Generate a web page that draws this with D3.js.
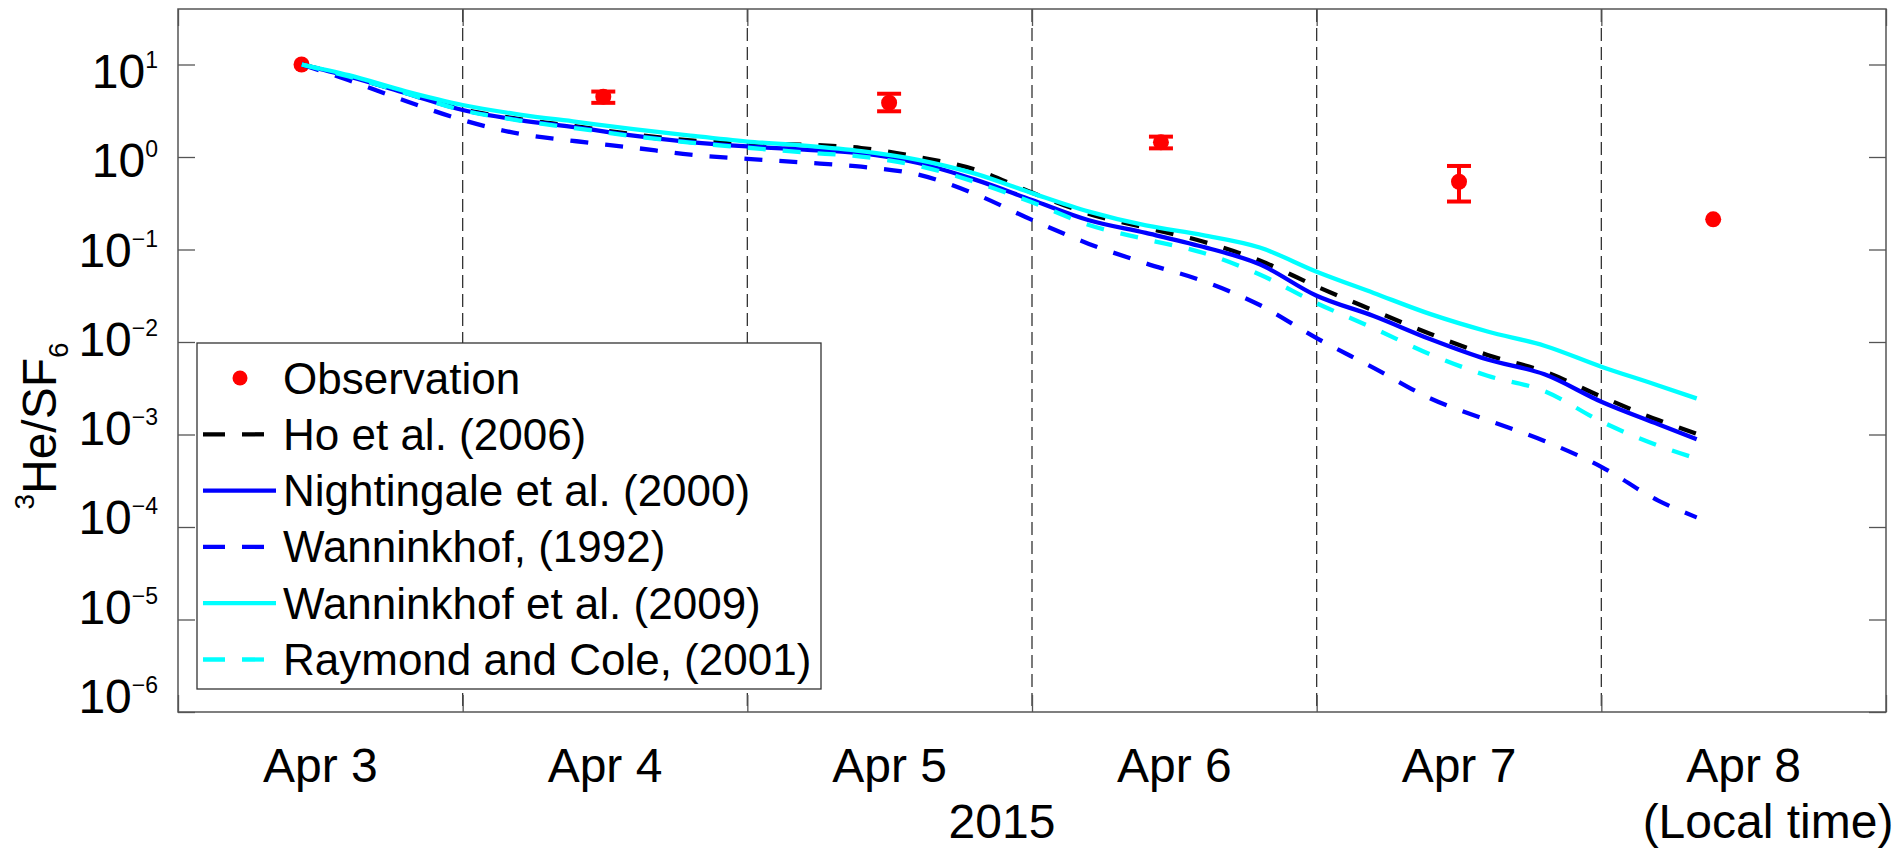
<!DOCTYPE html>
<html><head><meta charset="utf-8">
<script src="https://cdn.jsdelivr.net/npm/d3@7"></script>
<style>
html,body{margin:0;padding:0;background:#fff;}
svg{display:block;}
text{font-family:Arial,"Liberation Sans",Helvetica,sans-serif;fill:#000;}
</style></head><body>
<svg id="chart" width="1897" height="850"></svg>
<script>
// Time axis: days after 2015-04-03 00:00 (local time)
const startDate = "2015-04-03";
const dayCount = 6;

// Observations
const obsDay   = [0.434, 1.494, 2.498, 3.453, 4.500, 5.393];
const obsValue = [10.0, 4.49, 3.86, 1.44, 0.54, 0.212];
const obsLow   = [null, 3.85, 3.12, 1.24, 0.33, null];
const obsHigh  = [null, 5.10, 4.83, 1.66, 0.80, null];

// Model curves (common time grid, days after start)
const modelDays = [0.435,0.6,0.8,1.0,1.2,1.4,1.6,1.8,2.0,2.2,2.4,2.6,2.8,3.0,3.2,3.4,3.6,3.8,4.0,4.2,4.4,4.6,4.8,5.0,5.2,5.335];
const ho2006 = [10,7.41,4.95,3.27,2.57,2.14,1.76,1.51,1.41,1.36,1.25,1.00,0.733,0.412,0.243,0.172,0.122,0.0759,0.0398,0.0219,0.0122,0.00724,0.00479,0.00257,0.00143,0.00102];
const nightingale2000 = [10,7.41,4.90,3.22,2.51,2.09,1.70,1.45,1.30,1.20,1.10,0.861,0.569,0.343,0.207,0.151,0.107,0.0692,0.0316,0.0191,0.0107,0.00646,0.00447,0.00226,0.00129,0.000891];
const wanninkhof1992 = [10,6.76,4.03,2.51,1.78,1.48,1.26,1.06,0.955,0.871,0.785,0.646,0.398,0.209,0.115,0.0708,0.0457,0.0251,0.0110,0.00525,0.00245,0.00143,0.000851,0.000447,0.000193,0.000127];
const wanninkhof2009 = [10,7.67,5.13,3.65,2.88,2.40,2.00,1.70,1.47,1.33,1.16,0.933,0.661,0.407,0.257,0.182,0.143,0.105,0.0575,0.0339,0.0200,0.0130,0.00912,0.00541,0.00339,0.00245];
const raymondCole2001 = [10,7.41,4.90,3.20,2.48,2.04,1.68,1.43,1.26,1.12,1.01,0.804,0.537,0.324,0.184,0.129,0.0923,0.0537,0.0263,0.0141,0.00733,0.00432,0.00295,0.00138,0.000759,0.000550];

// Y tick values (decades)
const yTickExponents = [1,0,-1,-2,-3,-4,-5,-6];

// Series definitions (legend order = draw order)
const seriesNames = ["Ho et al. (2006)","Nightingale et al. (2000)","Wanninkhof, (1992)","Wanninkhof et al. (2009)","Raymond and Cole, (2001)"];
const seriesValues = [ho2006, nightingale2000, wanninkhof1992, wanninkhof2009, raymondCole2001];
const seriesColors = ["#000000","#0000ff","#0000ff","#00ffff","#00ffff"];
const seriesDashed = [true,false,true,false,true];

const svg = d3.select("#chart");
const L = 178, R = 1886, T = 9, B = 712;

const t0 = new Date(startDate + "T00:00:00Z");
const toDate = d => new Date(t0.getTime() + d * 864e5);
const x = d3.scaleUtc().domain([t0, toDate(dayCount)]).range([L, R]);
const y = d3.scaleLog().domain([1e-6, Math.pow(10, 1.6)]).range([B, T]);

// dashed vertical grid at midnight
const dayTicks = x.ticks(d3.utcDay.every(1));
svg.append("g").selectAll("line")
  .data(dayTicks.filter((d,i)=> i>0 && i<dayTicks.length-1))
  .join("line")
  .attr("x1", d=>x(d)).attr("x2", d=>x(d))
  .attr("y1", T).attr("y2", B)
  .attr("stroke", "#333").attr("stroke-width", 1.3)
  .attr("stroke-dasharray", "13,6");

// axes ticks (inward)
const tickVals = yTickExponents.map(e => Math.pow(10, e));
const axL = svg.append("g").attr("transform", `translate(${L},0)`)
  .call(d3.axisLeft(y).tickValues(tickVals).tickSize(-17).tickFormat(""));
const axR = svg.append("g").attr("transform", `translate(${R},0)`)
  .call(d3.axisRight(y).tickValues(tickVals).tickSize(-17).tickFormat(""));
const axB = svg.append("g").attr("transform", `translate(0,${B})`)
  .call(d3.axisBottom(x).tickValues(dayTicks).tickSize(-17).tickFormat(""));
const axT = svg.append("g").attr("transform", `translate(0,${T})`)
  .call(d3.axisTop(x).tickValues(dayTicks).tickSize(-17).tickFormat(""));
[axL,axR,axB,axT].forEach(a => {
  a.select(".domain").remove();
  a.selectAll(".tick line").attr("stroke", "#555").attr("stroke-width", 1.3);
});

// axes box
svg.append("rect").attr("x", L).attr("y", T).attr("width", R-L).attr("height", B-T)
  .attr("fill", "none").attr("stroke", "#555").attr("stroke-width", 1.5);

// y tick labels
const labelY = d3.scaleLog().domain([1e-6, 10]).range([713, 88]);
const yl = svg.append("g").selectAll("text").data(yTickExponents).join("text")
  .attr("x", 158).attr("y", e => labelY(Math.pow(10, e)))
  .attr("text-anchor", "end").attr("font-size", 48);
yl.append("tspan").text("10");
yl.append("tspan").attr("font-size", 23).attr("dy", -20)
  .text(e => (e < 0 ? "\u2212" + Math.abs(e) : String(e)));

// x tick labels at noon
const fmt = d3.utcFormat("%b %-d");
svg.append("g").selectAll("text").data(d3.range(dayCount)).join("text")
  .attr("x", d => x(toDate(d + 0.5))).attr("y", 782)
  .attr("text-anchor", "middle").attr("font-size", 48)
  .text(d => fmt(toDate(d)));
svg.append("text").attr("x", 1002).attr("y", 838).attr("text-anchor", "middle")
  .attr("font-size", 48).text("2015");
svg.append("text").attr("x", 1768).attr("y", 838).attr("text-anchor", "middle")
  .attr("font-size", 48).text("(Local time)");

// y axis title
const yt = svg.append("text").attr("transform", "translate(56,426) rotate(-90)")
  .attr("text-anchor", "middle").attr("font-size", 48);
yt.append("tspan").attr("font-size", 28).attr("dy", -22).text("3");
yt.append("tspan").attr("dy", 22).text("He/SF");
yt.append("tspan").attr("font-size", 28).attr("dy", 12).text("6");

// plot clip
svg.append("clipPath").attr("id", "clip").append("rect")
  .attr("x", L).attr("y", T).attr("width", R-L).attr("height", B-T);
const plot = svg.append("g").attr("clip-path", "url(#clip)");

// observations (drawn first)
const obs = obsDay.map((d,i) => ({t: toDate(d), v: obsValue[i], lo: obsLow[i], hi: obsHigh[i]}));
const eb = obs.filter(o => o.lo !== null);
plot.append("g").selectAll("line.stem").data(eb).join("line")
  .attr("x1", o=>x(o.t)).attr("x2", o=>x(o.t)).attr("y1", o=>y(o.lo)).attr("y2", o=>y(o.hi))
  .attr("stroke", "#ff0000").attr("stroke-width", 4);
plot.append("g").selectAll("line").data(eb.flatMap(o => [{t:o.t, v:o.lo},{t:o.t, v:o.hi}])).join("line")
  .attr("x1", o=>x(o.t)-12).attr("x2", o=>x(o.t)+12).attr("y1", o=>y(o.v)).attr("y2", o=>y(o.v))
  .attr("stroke", "#ff0000").attr("stroke-width", 4);
plot.append("g").selectAll("circle").data(obs).join("circle")
  .attr("cx", o=>x(o.t)).attr("cy", o=>y(o.v)).attr("r", 8).attr("fill", "#ff0000");

// model lines
const line = d3.line().x(d => x(d.t)).y(d => y(d.v)).curve(d3.curveMonotoneX);
seriesValues.forEach((vals, s) => {
  const data = modelDays.map((d,i) => ({t: toDate(d), v: vals[i]}));
  plot.append("path").datum(data).attr("d", line)
    .attr("fill", "none").attr("stroke", seriesColors[s]).attr("stroke-width", 4.3)
    .attr("stroke-dasharray", seriesDashed[s] ? "18,17" : null);
});

// legend
const lg = svg.append("g");
lg.append("rect").attr("x", 197).attr("y", 343).attr("width", 624).attr("height", 346)
  .attr("fill", "#fff").attr("stroke", "#333").attr("stroke-width", 1.3);
const rowY = i => 378 + i * 56.3;
lg.append("circle").attr("cx", 240).attr("cy", rowY(0)).attr("r", 7.5).attr("fill", "#ff0000");
lg.append("text").attr("x", 283).attr("y", rowY(0) + 15.5).attr("font-size", 44).text("Observation");
seriesNames.forEach((n, s) => {
  const yy = rowY(s + 1);
  lg.append("line").attr("x1", 203).attr("x2", 276).attr("y1", yy).attr("y2", yy)
    .attr("stroke", seriesColors[s]).attr("stroke-width", 4.3)
    .attr("stroke-dasharray", seriesDashed[s] ? "22,17" : null);
  lg.append("text").attr("x", 283).attr("y", yy + 15.5).attr("font-size", 44).text(n);
});
</script>
</body></html>
